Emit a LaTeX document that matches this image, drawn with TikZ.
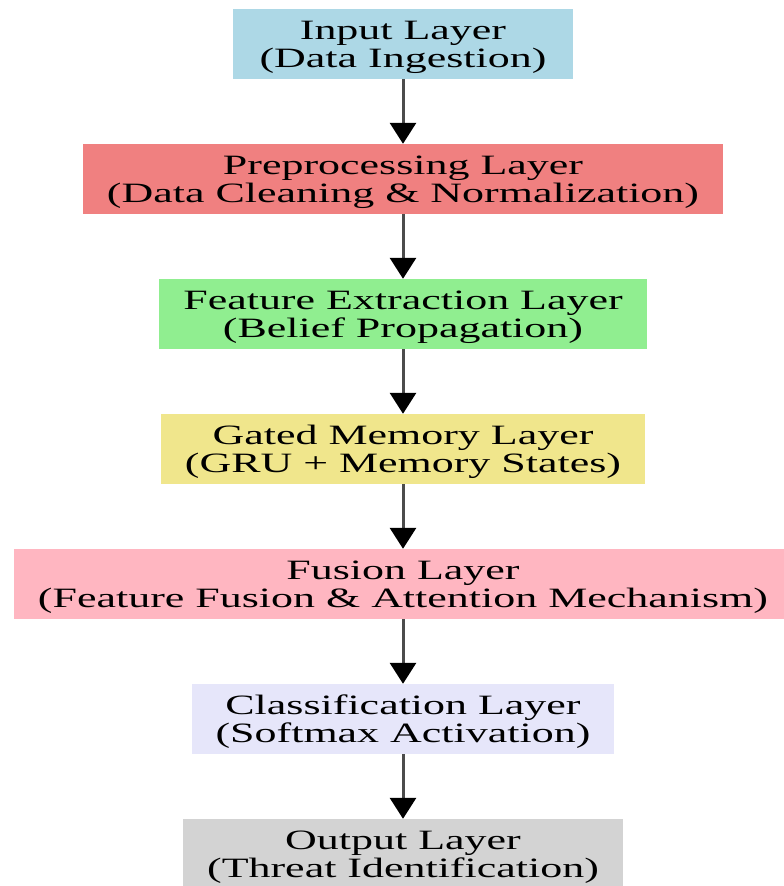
\documentclass[tikz,border=0pt]{standalone}
\usepackage{fontspec}
\setmainfont{Liberation Serif}[FakeStretch=1.57]
\usetikzlibrary{math, arrows.meta}
\definecolor{inblue}{HTML}{ADD8E6}
\definecolor{precoral}{HTML}{F08080}
\definecolor{featgreen}{HTML}{90EE90}
\definecolor{memkhaki}{HTML}{F0E68C}
\definecolor{fusepink}{HTML}{FFB6C1}
\definecolor{clslavender}{HTML}{E6E6FA}
\definecolor{outgray}{HTML}{D3D3D3}
\tikzset{
	layer/.style={rectangle, draw=none, align=center, minimum width=340pt, minimum height=70pt,
		inner xsep=24pt, inner ysep=0pt, text depth=0pt, font=\fontsize{28}{28}\selectfont},
	flow/.style={draw=black!70, line width=3pt, -{Triangle[width=26pt, length=21pt, color=black]}}
}

\begin{document}
\begin{tikzpicture}[x=1pt, y=1pt]
	\tikzmath{\d = 135; \cx = 403;}
	\useasboundingbox (0, 0) rectangle (784, -886);
	\node[layer, fill=inblue]      (input)  at (\cx, -44)          {Input Layer\\(Data Ingestion)};
	\node[layer, fill=precoral]    (prep)   at (\cx, {-44 - \d})   {Preprocessing Layer\\(Data Cleaning \& Normalization)};
	\node[layer, fill=featgreen]   (feat)   at (\cx, {-44 - 2*\d}) {Feature Extraction Layer\\(Belief Propagation)};
	\node[layer, fill=memkhaki]    (mem)    at (\cx, {-44 - 3*\d}) {Gated Memory Layer\\(GRU + Memory States)};
	\node[layer, fill=fusepink]    (fusion) at (\cx, {-44 - 4*\d}) {Fusion Layer\\(Feature Fusion \& Attention Mechanism)};
	\node[layer, fill=clslavender] (cls)    at (\cx, {-44 - 5*\d}) {Classification Layer\\(Softmax Activation)};
	\node[layer, fill=outgray]     (out)    at (\cx, {-44 - 6*\d}) {Output Layer\\(Threat Identification)};

	\draw[flow] (input) -- (prep);
	\draw[flow] (prep) -- (feat);
	\draw[flow] (feat) -- (mem);
	\draw[flow] (mem) -- (fusion);
	\draw[flow] (fusion) -- (cls);
	\draw[flow] (cls) -- (out);
\end{tikzpicture}
\end{document}
